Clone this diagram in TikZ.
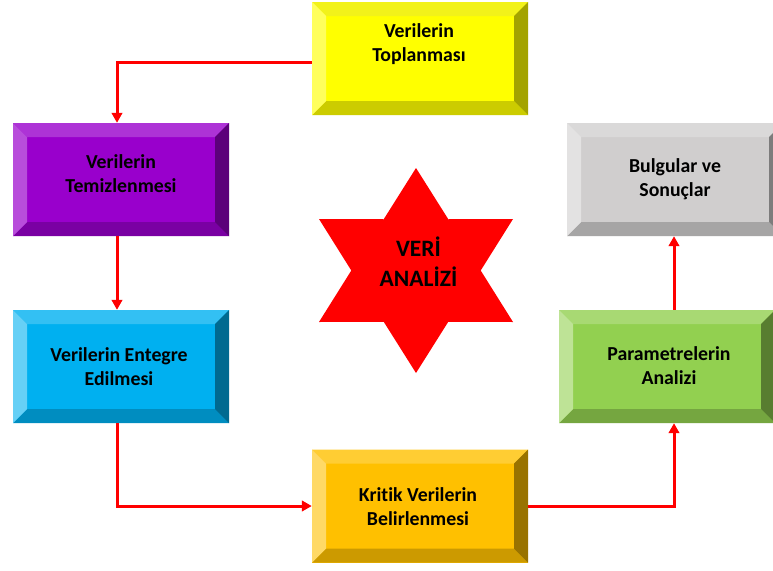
\documentclass[tikz,border=0pt]{standalone}
\usepackage{fontspec}
\setmainfont{Carlito}[Ligatures=NoCommon]
\usetikzlibrary{arrows.meta}
\definecolor{yF}{HTML}{FFFF00}\definecolor{yL}{HTML}{FFFF5C}\definecolor{yT}{HTML}{F2F21A}\definecolor{yR}{HTML}{A3A300}\definecolor{yB}{HTML}{CCCC00}
\definecolor{pF}{HTML}{9900CC}\definecolor{pL}{HTML}{B84DDB}\definecolor{pT}{HTML}{AD33D6}\definecolor{pR}{HTML}{5C007A}\definecolor{pB}{HTML}{7A00A3}
\definecolor{bF}{HTML}{00B0F0}\definecolor{bL}{HTML}{66D0F6}\definecolor{bT}{HTML}{33C0F3}\definecolor{bR}{HTML}{006A90}\definecolor{bB}{HTML}{008DC0}
\definecolor{oF}{HTML}{FFC000}\definecolor{oL}{HTML}{FFD966}\definecolor{oT}{HTML}{FFCD33}\definecolor{oR}{HTML}{997300}\definecolor{oB}{HTML}{CC9A00}
\definecolor{gF}{HTML}{D0CECE}\definecolor{gL}{HTML}{E3E2E2}\definecolor{gT}{HTML}{DAD9D9}\definecolor{gR}{HTML}{7D7C7C}\definecolor{gB}{HTML}{A6A5A5}
\definecolor{nF}{HTML}{92D050}\definecolor{nL}{HTML}{BEE396}\definecolor{nT}{HTML}{A8D973}\definecolor{nR}{HTML}{587D30}\definecolor{nB}{HTML}{75A640}
\definecolor{arrred}{HTML}{FF0000}
\begin{document}
\begin{tikzpicture}[x=1pt,y=-1pt,
  bevelbox/.style n args={5}{rectangle, minimum width=216pt, minimum height=113pt, inner sep=0pt, fill=#1,
    path picture={
      \coordinate (NW) at (path picture bounding box.north west);
      \coordinate (NE) at (path picture bounding box.north east);
      \coordinate (SE) at (path picture bounding box.south east);
      \coordinate (SW) at (path picture bounding box.south west);
      \coordinate (nw) at ([shift={(14pt,-14pt)}]NW);
      \coordinate (ne) at ([shift={(-14pt,-14pt)}]NE);
      \coordinate (se) at ([shift={(-14pt,14pt)}]SE);
      \coordinate (sw) at ([shift={(14pt,14pt)}]SW);
      \fill[#3] (NW) -- (NE) -- (ne) -- (nw) -- cycle;
      \fill[#5] (SW) -- (SE) -- (se) -- (sw) -- cycle;
      \fill[#2] (NW) -- (SW) -- (sw) -- (nw) -- cycle;
      \fill[#4] (NE) -- (SE) -- (se) -- (ne) -- cycle;
    }},
  boxtext/.style={font=\bfseries\fontsize{19.8}{24}\selectfont, align=center, text=black, inner sep=0pt},
  startext/.style={font=\bfseries\fontsize{23.5}{30}\selectfont, align=center, text=black, inner sep=0pt},
  arr/.style={draw=arrred, line width=3pt, -{Triangle[length=10pt,width=10.5pt]}}
]
\clip (0,0) rectangle (773,570);
\useasboundingbox (0,0) rectangle (773,570);
\fill[white] (0,0) rectangle (773,570);

% boxes
\node[bevelbox={yF}{yL}{yT}{yR}{yB}] (topl) at (420,58.5) {};
\node[boxtext] (topltxt) at (419,44) {Verilerin\\Toplanması};

\node[bevelbox={pF}{pL}{pT}{pR}{pB}] (temiz) at (121,179.5) {};
\node[boxtext] (temiztxt) at (121,173.5) {Verilerin\\Temizlenmesi};

\node[bevelbox={bF}{bL}{bT}{bR}{bB}] (entegre) at (121,366.5) {};
\node[boxtext] (entegretxt) at (119,367) {Verilerin Entegre\\Edilmesi};

\node[bevelbox={oF}{oL}{oT}{oR}{oB}] (kritik) at (420,506) {};
\node[boxtext] (kritiktxt) at (418,507) {Kritik Verilerin\\Belirlenmesi};

\node[bevelbox={nF}{nL}{nT}{nR}{nB}] (param) at (667,366.5) {};
\node[boxtext] (paramtxt) at (669,366) {Parametrelerin\\Analizi};

\node[bevelbox={gF}{gL}{gT}{gR}{gB}] (bulgu) at (675,179.5) {};
\node[boxtext] (bulgutxt) at (675,179) {Bulgular ve\\Sonuçlar};

% star
\fill[arrred] (416,168) -- (448.3,219.25) -- (513,219) -- (480.7,270.5) -- (513,322) -- (448.3,321.75) -- (416,373) -- (383.7,321.75) -- (319,322) -- (351.3,270.5) -- (319,219) -- (383.7,219.25) -- cycle;
\node[startext] (star) at (418.5,262) {VERİ\\ANALİZİ};

% connectors
\draw[arr] ([yshift=-3.5pt]topl.west) -| ([xshift=-4pt]temiz.north);
\draw[arr] ([xshift=-4pt]temiz.south) -- ([xshift=-4pt]entegre.north);
\draw[arr] ([xshift=-4pt]entegre.south) |- (kritik.west);
\draw[arr] (kritik.east) -| ([xshift=7pt]param.south);
\draw[arr] ([xshift=7pt]param.north) -- ([xshift=7pt]param.north |- bulgu.south);
\end{tikzpicture}
\end{document}
